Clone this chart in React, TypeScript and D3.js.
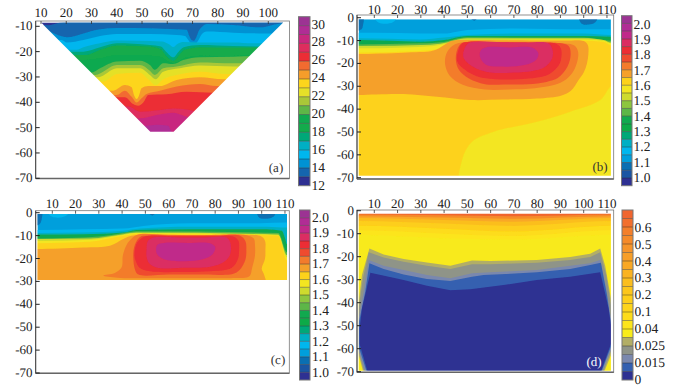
import * as React from 'react';
import * as d3 from 'd3';

type Pt = number[];

// colour bars, top to bottom
const ratioColors = ['#9C3393', '#B02D95', '#C02A8A', '#DB2D62', '#EC2D35', '#EF4B2F', '#F37B2C', '#F5A02A', '#FDD21B', '#F3E620', '#CEDB2E', '#8DC63F', '#5DB648', '#11A94F', '#0DAA48', '#00A878', '#00AFC4', '#00B7EE', '#009FDC', '#0A6FB2', '#1B55A3', '#2E3092'];
const speedColors = ['#9C3393', '#B02D95', '#C8287F', '#DE2D5E', '#EC2D35', '#F26B30', '#F59D2A', '#FDD51C', '#E5E028', '#A9C738', '#5EB647', '#10A94F', '#13AB4C', '#00A878', '#00AFC4', '#00B6EE', '#0092D3', '#1565AE', '#2E3092'];
const fluxColors = ['#F0652F', '#F26F2D', '#F37F2B', '#F58A2A', '#F6942A', '#F79E28', '#F9A825', '#FAB322', '#FBBE1F', '#FCC61C', '#FDCE1A', '#FDD41A', '#FDDC1A', '#FCE51C', '#F9EC1A', '#B2AE66', '#8F9488', '#7A88AE', '#3460B0', '#2E3092'];

const speedLabels = ['30', '28', '26', '24', '22', '20', '18', '16', '14', '12'];
const ratioLabels = ['2.0', '1.9', '1.8', '1.7', '1.6', '1.5', '1.4', '1.3', '1.2', '1.1', '1.0'];
const fluxLabels = ['0.6', '0.5', '0.4', '0.3', '0.2', '0.1', '0.04', '0.025', '0.015', '0'];

const ticksXa = [10, 20, 30, 40, 50, 60, 70, 80, 90, 100];
const ticksX = [10, 20, 30, 40, 50, 60, 70, 80, 90, 100, 110];
const ticksYa = [-10, -20, -30, -40, -50, -60, -70];
const ticksY = [0, -10, -20, -30, -40, -50, -60, -70];

// panel (a): outline and contour lines [distance, depth]
const outlineA: Pt[] = [[10, -8.5], [105.9, -8.5], [62.5, -51.6], [53.3, -51.6]];
const linesA: Pt[][] = [
  [[9, -9.4], [13, -9.6], [16, -8.9], [19, -8.3], [110, -8.3]],
  [[10, -10], [13.6, -12.1], [20.2, -14.3], [26.8, -12.8], [33.4, -11.2], [40, -10.7], [53.1, -10.8], [63.7, -11.2], [67.7, -11.4], [68.6, -13.5], [69.6, -15.4], [70.5, -15.7], [71.4, -14.5], [72.4, -12], [73.5, -10.5], [75.6, -9.1], [86.1, -9.5], [96.7, -10.4], [105.9, -8.8]],
  [[18.2, -15.4], [20.2, -16.4], [26.8, -15.4], [33.4, -13.8], [40, -13], [53.1, -13], [63.7, -13.4], [67, -13.8], [68.4, -15.5], [69.5, -16.8], [71, -17], [72.3, -15.5], [73.5, -13.3], [75.6, -12.1], [86.1, -12.5], [99.3, -12.8]],
  [[24.1, -19.3], [26.8, -18.3], [33.4, -16.7], [40, -15.6], [53.1, -15.8], [58, -16], [60.5, -17], [62.4, -18.2], [64, -17], [66, -16.2], [72.9, -16.4], [86.1, -16.4], [94, -16.7]],
  [[26.8, -20], [33.4, -18.3], [40, -16.7], [53.1, -17.4], [57.5, -18], [59.5, -20], [62.4, -22.2], [64.5, -20], [66.5, -18.3], [72.9, -17.4], [86.1, -17.8], [96.7, -18]],
  [[28, -21.3], [33.4, -19.3], [40, -17.6], [53.1, -18], [57.5, -19.1], [59.5, -21.5], [62.4, -23.6], [64.5, -21.5], [66.8, -19.3], [72.9, -18.3], [86.1, -18.4], [99.3, -18.4]],
  [[26.8, -23.3], [33.4, -22.6], [40, -21.3], [49.2, -21.3], [57.1, -22], [62.4, -24.6], [67.7, -22.2], [72.9, -21.6], [86.1, -21.7], [99.3, -21.3]],
  [[30, -28.3], [33.4, -26.6], [40, -23.9], [49.2, -23.6], [53.1, -25.3], [55.1, -27.2], [58.4, -24.6], [62.4, -24.9], [66.3, -23.3], [72.9, -22.2], [86.1, -22], [99.3, -21.7]],
  [[31.4, -29.2], [40, -25.3], [49.2, -25.3], [53.1, -27.5], [55.1, -29.2], [58.4, -26.6], [63.7, -25.9], [72.9, -24.3], [86.1, -24.6], [99.3, -24.6]],
  [[32.7, -30.1], [40, -26.6], [49.2, -26.6], [53.1, -29.2], [55.4, -30.9], [58.4, -27.9], [65, -26.6], [72.9, -25.5], [86.1, -25.9], [99.3, -25.9]],
  [[34.7, -31.8], [40, -28.8], [49.2, -28.3], [52.5, -30.9], [55.4, -33.2], [58.4, -30.9], [63.7, -29.2], [72.9, -27.9], [83.5, -28.8], [99.3, -28.8]],
  [[38.6, -35.4], [43.2, -33.2], [45.9, -34.1], [46.8, -37.1], [47.9, -38.7], [48.9, -37.1], [49.8, -34.5], [52.5, -33.6], [57.1, -33.6], [63.7, -31.2], [72.9, -30.1], [82.2, -30.9], [99.3, -30.9]],
  [[39.9, -37.1], [43.2, -35.4], [45.9, -37.8], [47.9, -40.1], [49.8, -38.4], [51.8, -36.7], [57.1, -35.4], [63.7, -33.8], [72.9, -32.8], [79.5, -33.6], [99.3, -33.6]],
  [[40.6, -38], [43.2, -38], [46.5, -40.7], [48.5, -41.4], [50.5, -40.1], [52.5, -37.1], [59.7, -36.8], [67.7, -35.8], [78.2, -36.2], [99.3, -36.2]],
  [[44.6, -41.7], [49.2, -43.7], [57.1, -43], [62.4, -42.4], [67.7, -42.8], [72.9, -43.7], [99.3, -43.7]],
  [[49.2, -46.3], [55.8, -45], [62.4, -44.1], [69, -45.9], [90, -45.9]],
  [[51.8, -49.3], [55.8, -48.9], [60.4, -49.3], [61.7, -51.6], [70, -55]],
];
const fillsA = ['#2E3092', '#1565AE', '#0092D3', '#00B6EE', '#00AFC4', '#00A878', '#13AB4C', '#10A94F', '#5EB647', '#A9C738', '#E5E028', '#FDD51C', '#F59D2A', '#F26B30', '#EC2D35', '#DE2D5E', '#C8287F', '#B02D95'];

// panel (b)
const outlineB: Pt[] = [[3.3, -0.7], [111.7, -0.7], [111.7, -69.1], [3.3, -69.1]];
const linesB: Pt[][] = [
  [[10, -6.6], [30, -6.9], [40, -6.9], [45.5, -6.1], [50, -5.4], [70, -4.7], [100, -5.1], [111.7, -5.1]],
  [[3.3, -9], [30, -9.5], [40, -8.7], [50, -7.6], [70, -6.9], [100, -6.9], [111.7, -7.6]],
  [[3.3, -9.8], [30, -10.5], [40, -9.8], [47, -8.3], [50, -8], [100, -8], [111.7, -8.3]],
  [[3.3, -11.7], [30, -11.2], [40, -10.6], [47, -8.9], [50, -8.6], [100, -8.7], [111.7, -10.1]],
  [[3.3, -12.4], [34, -11.8], [42.7, -10.5], [47, -9.3], [50, -9], [100, -9], [108.6, -9.8], [111.7, -10.9]],
  [[3.3, -13.4], [22.6, -13], [35.5, -12.4], [42.7, -10.9], [47, -9.8], [100, -9.5], [108.6, -10.1], [111.7, -11.2]],
  [[3.3, -15.3], [22.6, -14.9], [36.9, -13.9], [42.7, -11.2], [45.5, -10.1], [100, -10.1], [108.6, -10.6], [111.7, -12]],
];
const fillsB = ['#009FDC', '#00B7EE', '#00AFC4', '#11A94F', '#5DB648', '#CEDB2E', '#F3E620', '#FDD21B'];
const patchesB: Pt[][] = [
  [[47.7, -75], [47.7, -62.3], [52, -54.3], [61.3, -49.9], [79.9, -45.5], [94.2, -41.1], [107.1, -36], [111.7, -30], [116, -28.7], [116, -75]],
  [[-4, -16], [3.3, -15.9], [22.6, -15.3], [35.5, -14.4], [39.8, -12], [43.4, -10.1], [51.3, -9.8], [65, -9.9], [80, -10], [92, -10], [100, -10.2], [101.8, -12], [102, -16], [101.4, -20], [100, -24], [97.8, -27.3], [94.5, -32], [90.5, -34], [79.9, -35.4], [65, -35.8], [51.3, -36], [36.9, -34.6], [22.6, -33.4], [3.3, -33.8], [-4, -34]],
  [[40.4, -20], [41.3, -15], [44.7, -11.6], [50.4, -10.5], [60, -10.7], [70, -10.9], [80, -11], [90.5, -11.2], [96, -12.2], [97.6, -15], [97, -20], [94.5, -25], [90, -28.5], [79, -30.9], [68, -31.4], [57.6, -31.4], [48, -29.3], [42.5, -25.5]],
  [[45.1, -19], [45.6, -14], [47.5, -11.2], [51, -10.5], [60, -10.7], [70, -10.9], [80, -11], [90.5, -11.2], [93.6, -12.5], [94.4, -16], [93, -21.5], [89, -26.3], [84, -28.1], [76, -29.1], [66, -29.2], [57.6, -29.1], [50.5, -26.5], [46.5, -23]],
  [[45.6, -19], [46.2, -14], [47.8, -11.2], [51, -10.5], [60, -10.7], [70, -10.9], [80, -11], [87.6, -11.2], [90, -13], [90.5, -16], [89.5, -20.5], [85.5, -24.5], [80, -26.2], [72, -26.9], [62, -26.9], [54, -25.6], [49, -22.8]],
  [[48.2, -17], [49, -13], [51, -10.9], [54, -10.5], [65, -10.7], [75, -10.9], [84.8, -11.2], [86.6, -14], [86.4, -18], [83, -21.8], [78, -23.3], [70, -24], [60, -24], [54, -22.3], [49.8, -19.5]],
  [[55.4, -17], [55.8, -14.2], [58, -13], [68, -13], [78, -13.1], [80.5, -15.5], [79.5, -18.5], [75, -20.6], [65, -21.4], [58, -20.6]],
  [[1, 1], [5.2, 1], [5.2, -3], [4.5, -5], [1, -5.5]],
  [[98, 1], [106, 1], [105, -2], [102, -3], [99, -2.5]],
  [[9.7, 1], [20, 1], [18, -2], [12, -2.2]],
  [[50.5, 1], [54.8, 1], [53, -1.3]],
];
const patchFillsB = ['#F3E620', '#F5A02A', '#F37B2C', '#EF4B2F', '#EC2D35', '#DB2D62', '#C02A8A', '#0A6FB2', '#0A6FB2', '#00B7EE', '#0A6FB2'];

// panel (c)
const outlineC: Pt[] = [[3.6, -0.6], [110.9, -0.6], [110.9, -29.4], [3.6, -29.4]];
const linesC: Pt[][] = [
  [[3.6, -7.6], [23.3, -7.2], [40.5, -6.9], [49.1, -5.8], [69.2, -4.6], [99.3, -4.6], [110.9, -4.3]],
  [[3.6, -8.9], [23.3, -8.7], [40.5, -7.9], [47.7, -6.9], [69.2, -6.1], [102.1, -6.1], [110.9, -6.5]],
  [[3.6, -9.5], [23.3, -9.4], [40.5, -8.7], [46.2, -7.5], [69.2, -7.2], [102.1, -7.2], [108.6, -7.9], [110, -11], [110.9, -13.7]],
  [[3.6, -11.3], [30.5, -10.4], [40.5, -8.9], [46.2, -8.1], [107.1, -8.9], [110.9, -17.3]],
  [[3.6, -11.5], [26.2, -11.3], [40.5, -9.4], [46.2, -8.7], [107.1, -9.5], [110.9, -18.5]],
  [[3.6, -12.4], [26.2, -11.8], [40.5, -9.7], [46.2, -8.9], [107.1, -9.8], [110.9, -19.5]],
  [[3.6, -13.3], [26.2, -12.7], [40.5, -10.1], [47.7, -9.2], [107.1, -10.1], [110.9, -21]],
];
const fillsC = ['#009FDC', '#00B7EE', '#00AFC4', '#11A94F', '#5DB648', '#CEDB2E', '#F3E620', '#FDD21B'];
const patchesC: Pt[][] = [
  [[-4, -16], [3.6, -15.9], [23.3, -15.2], [34.8, -14.4], [40.5, -11.5], [44.1, -10.1], [47.7, -9.6], [65, -9.7], [85, -9.9], [99.3, -10.1], [101.4, -12.2], [101.6, -16], [101.4, -20.2], [100, -24.5], [101, -27], [101.6, -33], [50, -33], [-4, -33]],
  [[31.9, -27.4], [36.9, -26.3], [39.8, -23.8], [40.3, -18.8], [41.5, -15], [43, -12.5], [46.5, -9.6], [60, -9.7], [75, -9.8], [93.5, -9.8], [96.6, -11.3], [97.1, -14], [97.1, -18.8], [95.9, -24], [94.7, -27.7], [88, -28.5], [70, -28.6], [50, -28.6], [38, -28.4]],
  [[44.8, -18.8], [45.5, -14], [47.7, -10.6], [51, -10], [65, -10], [80, -10], [90.7, -10.1], [93, -12.5], [93.4, -16], [93, -20.5], [90.5, -25], [87.5, -26.8], [75, -27], [60, -27], [47, -27], [45.6, -25]],
  [[45.3, -18.8], [46, -14], [47.5, -11.8], [50, -10.3], [65, -10.3], [80, -10.3], [87.8, -10.4], [90, -12.3], [90.3, -16], [89.8, -20.2], [87, -24.2], [78, -25.6], [65, -25.9], [52, -25.6], [47.5, -24], [46, -21.5]],
  [[50.5, -16], [51, -12.5], [53, -10.9], [65, -10.8], [75, -10.8], [84.9, -10.8], [86.5, -13], [86.5, -18], [84, -21.3], [78, -23.6], [66, -24], [55, -24], [51.5, -22], [50.5, -19]],
  [[54.6, -16.6], [55.2, -14], [58, -13.2], [68, -13.2], [77.8, -13.3], [80, -15], [79, -18], [75, -20.2], [67, -21.2], [58, -20.3], [55.3, -18.5]],
  [[1, 1], [5.4, 1], [5.4, -3], [4.5, -5], [1, -5.5]],
  [[98, 1], [106, 1], [105, -1.8], [102, -2.6], [99, -2.2]],
  [[7.6, 1], [17.6, 1], [15.5, -1.6], [10, -1.8]],
  [[50.5, 1], [55, 1], [53, -1.2]],
];
const patchFillsC = ['#F5A02A', '#F37B2C', '#EF4B2F', '#EC2D35', '#DB2D62', '#C02A8A', '#0A6FB2', '#0A6FB2', '#00B7EE', '#0A6FB2'];

// panel (d)
const outlineD: Pt[] = [[3.3, -1.2], [111.7, -1.2], [111.7, -69.6], [3.3, -69.6]];
const linesD: Pt[][] = [
  [[3, -1.6], [40, -2], [70, -2.4], [112, -1.6]],
  [[3, -2.4], [40, -3], [70, -3.5], [112, -2.4]],
  [[3, -3.2], [40, -4], [70, -4.8], [112, -3.2]],
  [[3, -4.5], [40, -5.6], [70, -6.6], [112, -4.5]],
  [[3, -6.5], [40, -7.8], [70, -9], [112, -6.5]],
  [[3, -8.5], [40, -10], [70, -11], [112, -8.5]],
  [[3, -10.5], [40, -12], [70, -12.5], [112, -10.5]],
];
const fillsD = ['#F0652F', '#F58A2A', '#F9A825', '#FBBE1F', '#FDCE1A', '#FDDC1A', '#FCE51C', '#F8EA1A'];
const patchesD: Pt[][] = [
  [[3.3, -39.6], [4.7, -28], [7.9, -16.4], [14, -19], [22.6, -21], [32.6, -22.5], [42.7, -23.9], [52, -21.6], [59.9, -21.9], [79.9, -21.4], [94.2, -20.1], [102.8, -18.7], [107.1, -16.4], [109.3, -24.3], [111.7, -38.1], [111.7, -62.8], [109, -69.6], [5.1, -69.6], [3.3, -62.8]],
  [[3.3, -42.5], [5.1, -29.4], [7.6, -18.1], [14, -20.4], [22.6, -22.2], [32.6, -23.9], [42.7, -25.4], [52, -23.3], [59.9, -23.3], [79.9, -22.6], [94.2, -21.4], [102.8, -20.1], [107.1, -18.1], [109.7, -28], [111.7, -41], [111.7, -61.3], [108.6, -69.6], [5.5, -69.6], [3.3, -61.3]],
  [[3.3, -46.8], [5.4, -35.2], [7.6, -21.4], [14, -23.9], [22.6, -25.8], [32.6, -28], [42.7, -29.4], [52, -27.2], [59.9, -26.8], [79.9, -25.8], [94.2, -23.9], [102.8, -22.8], [107.1, -21.4], [109.7, -33.8], [111.7, -46.8], [111.7, -60.6], [108, -69.6], [6, -69.6], [3.3, -60.6]],
  [[3.3, -49], [6.1, -35.2], [7.9, -22.9], [14, -25.4], [22.6, -27.7], [32.6, -29.7], [42.7, -30.6], [52, -28.7], [57, -28], [79.9, -26.8], [94.2, -25.4], [102.8, -23.6], [107.4, -22.6], [110, -36.7], [111.7, -49], [111.7, -59.1], [107.8, -69.6], [6.6, -69.6], [3.3, -59.1]],
  [[3.7, -51.2], [4.7, -42.5], [8.3, -27], [22.6, -30.1], [32.6, -32.6], [42.7, -34.6], [51.3, -34.1], [65.6, -32.3], [79.9, -30.1], [94.2, -28.7], [107.1, -26.8], [110.7, -42.5], [111.7, -49.7], [111.7, -58], [107.5, -69.6], [7, -69.6], [3.7, -58]],
];
const patchFillsD = ['#B2AE66', '#8F9488', '#7A88AE', '#3460B0', '#2E3092'];

type PanelProps = {
  id: string;
  xRange: number[];
  yDomain: number[];
  yRange: number[];
  frame: number[];
  xTicks: number[];
  yTicks: number[];
  xBase: number;
  yLabelX: number;
  outline: Pt[];
  lines: Pt[][];
  fills: string[];
  patches?: Pt[][];
  patchFills?: string[];
  smooth?: boolean;
  tag: string;
  tagPos: number[];
  tagColor?: string;
  barColors: string[];
  barLabels: string[];
  bar: number[];
  labelRange: number[];
  barLabelX: number;
};

const Panel = (p: PanelProps) => {
  const x = d3.scaleLinear().domain([10, 100]).range(p.xRange);
  const y = d3.scaleLinear().domain(p.yDomain).range(p.yRange);
  const [fl, ft, fr, fb] = p.frame;

  const clipPath = d3.line<Pt>().x((d) => x(d[0])).y((d) => y(d[1]))(p.outline) + 'Z';
  const band = d3
    .area<Pt>()
    .x((d) => x(d[0]))
    .y0((d) => y(d[1]))
    .y1(() => y(-90))
    .curve(d3.curveMonotoneX);
  const patch = d3
    .line<Pt>()
    .x((d) => x(d[0]))
    .y((d) => y(d[1]))
    .curve(p.smooth ? d3.curveCatmullRomClosed.alpha(0.5) : d3.curveLinearClosed);

  const barY = d3.scaleBand<number>().domain(p.barColors.map((_, i) => i)).range([p.bar[1], p.bar[3]]);
  const labelY = d3.scalePoint<string>().domain(p.barLabels).range(p.labelRange);

  return (
    <g>
      <g clipPath={`url(#clip-${p.id})`} filter="url(#soft)">
        <path d={clipPath} fill={p.fills[0]} />
        {p.lines.map((l, i) => {
          const full = [[l[0][0] - 25, l[0][1]], ...l, [l[l.length - 1][0] + 25, l[l.length - 1][1]]];
          return <path key={i} d={band(full) || ''} fill={p.fills[i + 1]} />;
        })}
        {(p.patches || []).map((s, i) => (
          <path key={i} d={patch(s) || ''} fill={(p.patchFills || [])[i]} />
        ))}
      </g>
      <defs>
        <clipPath id={`clip-${p.id}`}>
          <path d={clipPath} />
        </clipPath>
      </defs>
      <rect x={fl} y={ft} width={fr - fl} height={fb - ft} fill="none" stroke="#777" strokeWidth={0.8} />
      <line x1={fl} x2={fl} y1={ft} y2={fb} stroke="#444" strokeWidth={1} />
      <line x1={fl} x2={fr} y1={fb} y2={fb} stroke="#666" strokeWidth={1.4} />
      {p.xTicks.map((t) => (
        <g key={t}>
          <line x1={x(t)} x2={x(t)} y1={ft} y2={ft + 3} stroke="#333" strokeWidth={0.8} />
          <text x={x(t)} y={p.xBase} textAnchor="middle" fontSize={13} fill="#222">{t}</text>
        </g>
      ))}
      {p.yTicks.map((t) => (
        <g key={t}>
          <line x1={fl} x2={fl + 4} y1={y(t)} y2={y(t)} stroke="#222" strokeWidth={1} />
          <text x={p.yLabelX} y={y(t) + 4} textAnchor="end" fontSize={13} fill="#222">{t}</text>
        </g>
      ))}
      <text x={p.tagPos[0]} y={p.tagPos[1]} textAnchor="middle" fontSize={13} fill={p.tagColor || '#333'}>{p.tag}</text>

      {p.barColors.map((c, i) => (
        <rect key={c + i} x={p.bar[0]} y={barY(i)} width={p.bar[2] - p.bar[0]} height={barY.bandwidth()} fill={c} />
      ))}
      {p.barColors.slice(1).map((c, i) => (
        <line key={c + i} x1={p.bar[0]} x2={p.bar[2]} y1={barY(i + 1)} y2={barY(i + 1)} stroke="#222" strokeOpacity={0.6} strokeWidth={0.7} />
      ))}
      <rect x={p.bar[0]} y={p.bar[1]} width={p.bar[2] - p.bar[0]} height={p.bar[3] - p.bar[1]} fill="none" stroke="#777" strokeWidth={1} />
      {p.barLabels.map((l) => (
        <text key={l} x={p.barLabelX} y={(labelY(l) || 0) + 4.5} fontSize={13.5} fill="#222">{l}</text>
      ))}
    </g>
  );
};

export default function App() {
  return (
    <svg width={674} height={389} textRendering="geometricPrecision" style={{ position: 'absolute', left: 0, top: 0, fontFamily: '"Liberation Serif", "Times New Roman", serif', background: '#fff' }}>
      <defs>
        <filter id="soft" x="-5%" y="-5%" width="110%" height="110%">
          <feGaussianBlur stdDeviation={0.45} />
        </filter>
      </defs>
      <Panel
        id="a" xRange={[41, 268.3]} yDomain={[-10, -70]} yRange={[26.3, 178.3]} frame={[35.7, 21, 289.5, 178.5]}
        xTicks={ticksXa} yTicks={ticksYa} xBase={17} yLabelX={32.5}
        outline={outlineA} lines={linesA} fills={fillsA}
        tag="(a)" tagPos={[276, 172]}
        barColors={speedColors} barLabels={speedLabels} bar={[298.5, 16.7, 310, 185.7]} labelRange={[24, 185]} barLabelX={311.5}
      />
      <Panel
        id="b" xRange={[374.3, 583.7]} yDomain={[0, -70]} yRange={[17.7, 177.7]} frame={[357, 15, 613.7, 179]}
        xTicks={ticksX} yTicks={ticksY} xBase={13.5} yLabelX={354}
        outline={outlineB} lines={linesB} fills={fillsB} patches={patchesB} patchFills={patchFillsB} smooth
        tag="(b)" tagPos={[600, 171]}
        barColors={ratioColors} barLabels={ratioLabels} bar={[621.5, 15.7, 632, 185.7]} labelRange={[24, 177.7]} barLabelX={633.5}
      />
      <Panel
        id="c" xRange={[52.3, 261.7]} yDomain={[0, -70]} yRange={[212.7, 373]} frame={[35.7, 210.7, 289.3, 373.3]}
        xTicks={ticksX} yTicks={ticksY} xBase={208} yLabelX={32.5}
        outline={outlineC} lines={linesC} fills={fillsC} patches={patchesC} patchFills={patchFillsC} smooth
        tag="(c)" tagPos={[278, 364]}
        barColors={ratioColors} barLabels={ratioLabels} bar={[299.5, 210, 310, 380]} labelRange={[217.3, 372]} barLabelX={312}
      />
      <Panel
        id="d" xRange={[374.3, 583.7]} yDomain={[0, -70]} yRange={[210.7, 371.7]} frame={[357, 210, 613.7, 372.3]}
        xTicks={ticksX} yTicks={ticksY} xBase={208} yLabelX={354}
        outline={outlineD} lines={linesD} fills={fillsD} patches={patchesD} patchFills={patchFillsD}
        tag="(d)" tagPos={[594, 366]} tagColor="#fff"
        barColors={fluxColors} barLabels={fluxLabels} bar={[622, 210, 633, 380]} labelRange={[227.3, 379]} barLabelX={634.5}
      />
    </svg>
  );
}
